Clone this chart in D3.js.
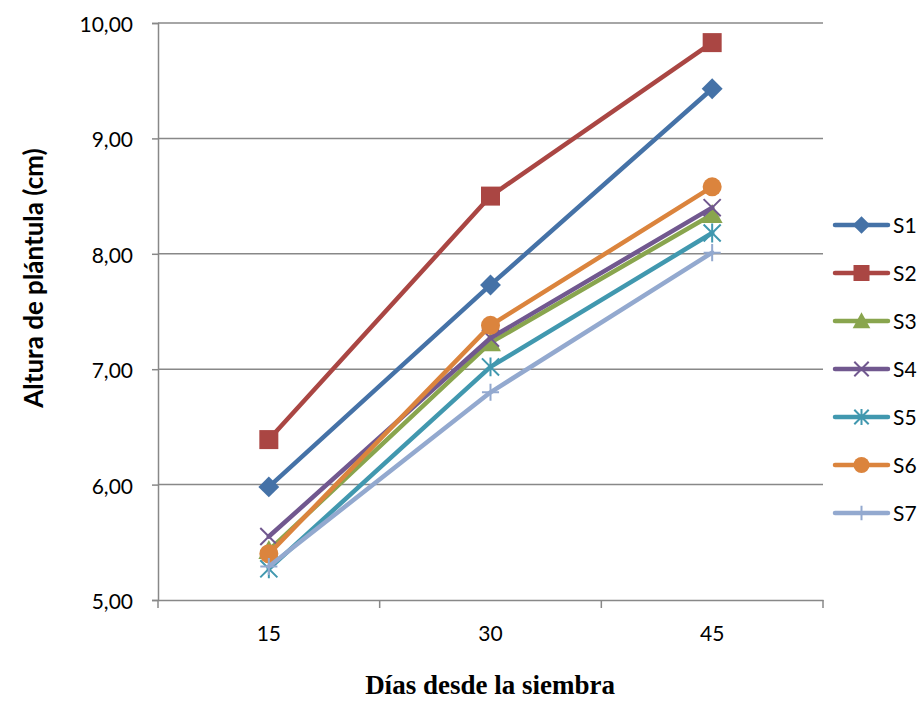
<!DOCTYPE html>
<html><head><meta charset="utf-8">
<script src="https://cdn.jsdelivr.net/npm/d3@7"></script>
<style>body{margin:0;background:#fff}svg{display:block}</style>
</head><body><svg id="c" width="920" height="702"></svg>
<script>
const categories = ["15","30","45"];
const seriesNames = ["S1","S2","S3","S4","S5","S6","S7"];
const S1 = [5.98, 7.73, 9.43];
const S2 = [6.39, 8.50, 9.83];
const S3 = [5.43, 7.23, 8.34];
const S4 = [5.55, 7.27, 8.40];
const S5 = [5.27, 7.02, 8.18];
const S6 = [5.40, 7.38, 8.58];
const S7 = [5.29, 6.80, 8.01];
const yTicks = [5,6,7,8,9,10];
const colors = ["#4572A7","#AA4643","#89A54E","#71588F","#4198AF","#DB843D","#93A9CF"];
const markers = ["diamond","square","triangle","x","asterisk","circle","plus"];
const values = [S1,S2,S3,S4,S5,S6,S7];

const svg = d3.select("#c");
const L=158,R=823,T=23,B=600;
const x = d3.scaleBand().domain(categories).range([L,R]);
const y = d3.scaleLinear().domain([5,10]).range([B,T]);
const fmt = v => d3.format(".2f")(v).replace(".", ",");
const sans = "Lato, 'Open Sans', sans-serif";

// gridlines
svg.append("g").selectAll("line").data(yTicks.filter(t=>t>5)).join("line")
  .attr("x1",L).attr("x2",R).attr("y1",d=>y(d)).attr("y2",d=>y(d))
  .attr("stroke","#888").attr("stroke-width",1.5);

// y axis
const ya = svg.append("g").attr("transform",`translate(${L},0)`)
  .call(d3.axisLeft(y).tickValues(yTicks).tickFormat(fmt).tickSize(6).tickPadding(19));
ya.select(".domain").attr("stroke","#888").attr("stroke-width",1.5);
ya.selectAll(".tick line").attr("stroke","#888").attr("stroke-width",1.5);
ya.selectAll("text").attr("font-family",sans).attr("font-size",21).attr("fill","#000").attr("dy","0.4em");

// x axis
const xa = svg.append("g").attr("transform",`translate(0,${B})`)
  .call(d3.axisBottom(x).tickSize(0).tickPadding(26));
xa.select(".domain").attr("stroke","#888").attr("stroke-width",1.5);
xa.selectAll("text").attr("font-family",sans).attr("font-size",21).attr("fill","#000");
const bounds = [L, ...categories.map(c=>x(c)+x.bandwidth())];
svg.append("g").selectAll("line").data(bounds).join("line")
  .attr("x1",d=>d).attr("x2",d=>d).attr("y1",B).attr("y2",B+8)
  .attr("stroke","#888").attr("stroke-width",1.5);

function marker(g, type, color, s){
  if(type==="diamond"){
    const h=s*0.55;
    g.append("path").attr("d",`M0,${-h}L${h},0L0,${h}L${-h},0Z`).attr("fill",color);
  } else if(type==="square"){
    g.append("rect").attr("x",-s/2).attr("y",-s/2).attr("width",s).attr("height",s).attr("fill",color);
  } else if(type==="triangle"){
    g.append("path").attr("d",`M0,${-s*0.55}L${s*0.55},${s*0.45}L${-s*0.55},${s*0.45}Z`).attr("fill",color);
  } else if(type==="circle"){
    g.append("circle").attr("r",s/2).attr("fill",color);
  } else if(type==="x"){
    const h=s*0.45;
    g.append("path").attr("d",`M${-h},${-h}L${h},${h}M${-h},${h}L${h},${-h}`).attr("stroke",color).attr("stroke-width",2);
  } else if(type==="asterisk"){
    const h=s*0.45;
    g.append("path").attr("d",`M${-h},${-h}L${h},${h}M${-h},${h}L${h},${-h}M0,${-h*1.1}L0,${h*1.1}`).attr("stroke",color).attr("stroke-width",2);
  } else if(type==="plus"){
    const h=s*0.45;
    g.append("path").attr("d",`M${-h},0L${h},0M0,${-h}L0,${h}`).attr("stroke",color).attr("stroke-width",2);
  }
}

const line = d3.line().x((d,i)=>x(categories[i])+x.bandwidth()/2).y(d=>y(d));
values.forEach((vals,si)=>{
  const g = svg.append("g");
  g.append("path").attr("d",line(vals)).attr("fill","none").attr("stroke",colors[si]).attr("stroke-width",4.5).attr("stroke-linejoin","round").attr("stroke-linecap","round");
  vals.forEach((v,i)=>{
    const mg = g.append("g").attr("transform",`translate(${x(categories[i])+x.bandwidth()/2},${y(v)})`);
    marker(mg, markers[si], colors[si], 19);
  });
});

// legend
const lg = svg.append("g");
seriesNames.forEach((n,i)=>{
  const cy = 225 + i*48;
  const g = lg.append("g").attr("transform",`translate(0,${cy})`);
  g.append("line").attr("x1",835).attr("x2",888).attr("y1",0).attr("y2",0).attr("stroke",colors[i]).attr("stroke-width",4.5).attr("stroke-linecap","round");
  const mg = g.append("g").attr("transform","translate(861.5,0)");
  marker(mg, markers[i], colors[i], 16);
  g.append("text").attr("x",893).attr("y",0).attr("dy","0.36em").text(n)
    .attr("font-family",sans).attr("font-size",21);
});

// axis titles
svg.append("text").attr("transform","translate(43,278) rotate(-90)").attr("text-anchor","middle")
  .attr("font-family",sans).attr("font-weight","bold").attr("font-size",26)
  .text("Altura de plántula (cm)");
svg.append("text").attr("x",490).attr("y",694).attr("text-anchor","middle")
  .attr("font-family","'Liberation Serif', 'Times New Roman', serif").attr("font-weight","bold").attr("font-size",27)
  .text("Días desde la siembra");
</script></body></html>
